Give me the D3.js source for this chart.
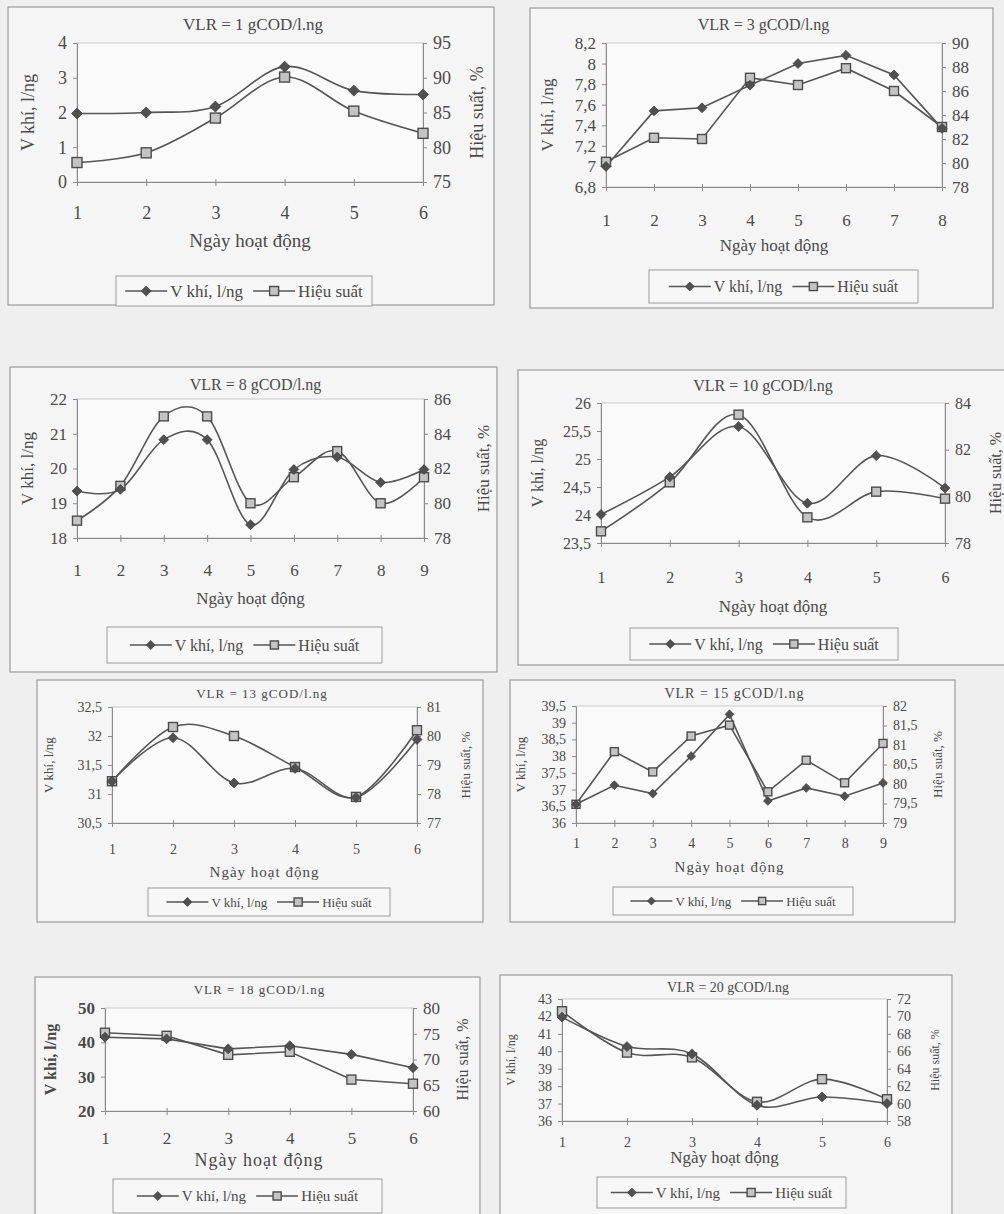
<!DOCTYPE html>
<html>
<head>
<meta charset="utf-8">
<script src="https://cdn.jsdelivr.net/npm/d3@7"></script>
<style>
body { margin: 0; background: #efefef; }
svg text { font-family: "Liberation Serif", "DejaVu Serif", serif; fill: #4a4a4a; }
</style>
</head>
<body>
<svg id="page" width="1004" height="1214"></svg>
<script>
// --- data ---
var days6 = [1, 2, 3, 4, 5, 6];
var days8 = [1, 2, 3, 4, 5, 6, 7, 8];
var days9 = [1, 2, 3, 4, 5, 6, 7, 8, 9];

var vKhi1 = [1.97, 2.0, 2.17, 3.32, 2.63, 2.52];
var hieuSuat1 = [77.8, 79.2, 84.2, 90.1, 85.2, 82.0];
var vTicks1 = [0, 1, 2, 3, 4];
var hTicks1 = [75, 80, 85, 90, 95];

var vKhi3 = [7.0, 7.54, 7.57, 7.79, 8.0, 8.08, 7.89, 7.37];
var hieuSuat3 = [80.1, 82.1, 82.0, 87.1, 86.5, 87.9, 86.0, 83.0];
var vTicks3 = [6.8, 7, 7.2, 7.4, 7.6, 7.8, 8, 8.2];
var hTicks3 = [78, 80, 82, 84, 86, 88, 90];

var vKhi8 = [19.35, 19.4, 20.83, 20.83, 18.38, 19.97, 20.33, 19.6, 19.97];
var hieuSuat8 = [79.0, 81.0, 85.0, 85.0, 80.0, 81.5, 83.0, 80.0, 81.5];
var vTicks8 = [18, 19, 20, 21, 22];
var hTicks8 = [78, 80, 82, 84, 86];

var vKhi10 = [24.01, 24.68, 25.58, 24.21, 25.06, 24.48];
var hieuSuat10 = [78.5, 80.6, 83.5, 79.1, 80.2, 79.9];
var vTicks10 = [23.5, 24, 24.5, 25, 25.5, 26];
var hTicks10 = [78, 80, 82, 84];

var vKhi13 = [31.22, 31.97, 31.19, 31.44, 30.94, 31.94];
var hieuSuat13 = [78.44, 80.31, 80.0, 78.93, 77.9, 80.2];
var vTicks13 = [30.5, 31, 31.5, 32, 32.5];
var hTicks13 = [77, 78, 79, 80, 81];

var vKhi15 = [36.56, 37.13, 36.88, 38.0, 39.25, 36.66, 37.05, 36.8, 37.2];
var hieuSuat15 = [79.48, 80.83, 80.31, 81.23, 81.51, 79.8, 80.61, 80.03, 81.04];
var vTicks15 = [36, 36.5, 37, 37.5, 38, 38.5, 39, 39.5];
var hTicks15 = [79, 79.5, 80, 80.5, 81, 81.5, 82];

var vKhi18 = [41.5, 41.0, 38.1, 39.0, 36.5, 32.6];
var hieuSuat18 = [75.2, 74.6, 70.9, 71.5, 66.1, 65.3];
var vTicks18 = [20, 30, 40, 50];
var hTicks18 = [60, 65, 70, 75, 80];

var vKhi20 = [41.96, 40.27, 39.85, 36.9, 37.38, 37.0];
var hieuSuat20 = [70.6, 65.85, 65.3, 60.2, 62.8, 60.5];
var vTicks20 = [36, 37, 38, 39, 40, 41, 42, 43];
var hTicks20 = [58, 60, 62, 64, 66, 68, 70, 72];

var vName = "V khí, l/ng";
var hName = "Hiệu suất";
var xTitle = "Ngày hoạt động";
var yLeftTitle = "V khí, l/ng";
var yRightTitle = "Hiệu suất, %";

// --- layout of each panel on the page ---
var panels = [
	{title: "VLR = 1 gCOD/l.ng", days: days6, v: vKhi1, h: hieuSuat1, vt: vTicks1, ht: hTicks1, smooth: true,
	 frame: [8, 7, 494, 305], plot: [77, 43, 423, 182], titleY: 24, xLabY: 213, xTitY: 240,
	 lTitX: 28, rTitX: 477, legend: [116, 276, 372, 306], fs: {tick: 18, title: 17, xt: 19, yt: 18, lg: 17}, mk: 10},
	{title: "VLR = 3 gCOD/l.ng", days: days8, v: vKhi3, h: hieuSuat3, vt: vTicks3, ht: hTicks3, smooth: false,
	 frame: [530, 8, 993, 308], plot: [606, 43, 942, 187], titleY: 24, xLabY: 220, xTitY: 245,
	 lTitX: 547, rTitX: null, legend: [649, 270, 918, 303], fs: {tick: 17, title: 16, xt: 17, yt: 17, lg: 16}, mk: 9},
	{title: "VLR = 8 gCOD/l.ng", days: days9, v: vKhi8, h: hieuSuat8, vt: vTicks8, ht: hTicks8, smooth: true,
	 frame: [10, 367, 497, 672], plot: [77, 399, 424, 538], titleY: 384, xLabY: 570, xTitY: 598,
	 lTitX: 27, rTitX: 483, legend: [107, 627, 382, 663], fs: {tick: 17, title: 16, xt: 17, yt: 17, lg: 16}, mk: 9},
	{title: "VLR = 10 gCOD/l.ng", days: days6, v: vKhi10, h: hieuSuat10, vt: vTicks10, ht: hTicks10, smooth: true,
	 frame: [518, 370, 1012, 665], plot: [601, 403, 945, 543], titleY: 385, xLabY: 577, xTitY: 606,
	 lTitX: 537, rTitX: 995, legend: [630, 628, 898, 660], fs: {tick: 16, title: 16, xt: 17, yt: 16, lg: 16}, mk: 9},
	{title: "VLR = 13 gCOD/l.ng", days: days6, v: vKhi13, h: hieuSuat13, vt: vTicks13, ht: hTicks13, smooth: true,
	 frame: [37, 680, 483, 922], plot: [112, 707, 417, 823], titleY: 693, xLabY: 849, xTitY: 872,
	 lTitX: 48, rTitX: 465, legend: [148, 888, 390, 916], fs: {tick: 14, title: 13, xt: 15, yt: 13, lg: 13, ls: 1}, mk: 9},
	{title: "VLR = 15 gCOD/l.ng", days: days9, v: vKhi15, h: hieuSuat15, vt: vTicks15, ht: hTicks15, smooth: false,
	 frame: [510, 680, 955, 922], plot: [576, 706, 883, 823], titleY: 693, xLabY: 843, xTitY: 867,
	 lTitX: 520, rTitX: 937, legend: [613, 887, 853, 915], fs: {tick: 14, title: 14, xt: 15, yt: 13, lg: 13, ls: 1}, mk: 8},
	{title: "VLR = 18 gCOD/l.ng", days: days6, v: vKhi18, h: hieuSuat18, vt: vTicks18, ht: hTicks18, smooth: false,
	 frame: [35, 977, 480, 1216], plot: [105, 1008, 413, 1111], titleY: 989, xLabY: 1138, xTitY: 1160,
	 lTitX: 50, rTitX: 462, legend: [113, 1179, 382, 1213], fs: {tick: 17, title: 13, xt: 18, yt: 16, lg: 15, ls: 1}, mk: 9, boldY: true},
	{title: "VLR = 20 gCOD/l.ng", days: days6, v: vKhi20, h: hieuSuat20, vt: vTicks20, ht: hTicks20, smooth: true,
	 frame: [500, 975, 952, 1216], plot: [562, 999, 887, 1121], titleY: 987, xLabY: 1142, xTitY: 1157,
	 lTitX: 511, rTitX: 935, legend: [597, 1177, 846, 1208], fs: {tick: 14, title: 14, xt: 17, yt: 12, lg: 15}, mk: 9}
];

var svg = d3.select("#page");
var ink = "#555";

function fmt(d) {
	return String(+d.toFixed(2)).replace(".", ",");
}

function diamond(g, cx, cy, s) {
	var r = s * 0.55;
	g.append("path")
		.attr("d", "M" + cx + "," + (cy - r) + "L" + (cx + r) + "," + cy + "L" + cx + "," + (cy + r) + "L" + (cx - r) + "," + cy + "Z")
		.attr("fill", "#505050").attr("stroke", "#444").attr("stroke-width", 0.8);
}
function square(g, cx, cy, s) {
	g.append("rect")
		.attr("x", cx - s / 2).attr("y", cy - s / 2).attr("width", s).attr("height", s)
		.attr("fill", "#c4c4c4").attr("stroke", "#4c4c4c").attr("stroke-width", 1.4);
}

function styleAxis(a, fs) {
	a.select(".domain").attr("stroke", "#8a8a8a").attr("stroke-width", 1);
	a.selectAll(".tick line").attr("stroke", "#8a8a8a");
	a.selectAll("text").attr("font-size", fs).attr("fill", "#4a4a4a");
}

function drawPanel(p) {
	var g = svg.append("g");
	var f = p.frame, pl = p.plot;

	g.append("rect")
		.attr("x", f[0]).attr("y", f[1]).attr("width", f[2] - f[0]).attr("height", f[3] - f[1])
		.attr("fill", "#f5f5f5").attr("stroke", "#9c9c9c").attr("stroke-width", 1.2);

	var x = d3.scaleLinear().domain([1, p.days.length]).range([pl[0], pl[2]]);
	var yL = d3.scaleLinear().domain(d3.extent(p.vt)).range([pl[3], pl[1]]);
	var yR = d3.scaleLinear().domain(d3.extent(p.ht)).range([pl[3], pl[1]]);

	// plot area border
	g.append("rect")
		.attr("x", pl[0]).attr("y", pl[1]).attr("width", pl[2] - pl[0]).attr("height", pl[3] - pl[1])
		.attr("fill", "#fafafa").attr("stroke", "#c9c9c9");

	var aL = g.append("g").attr("transform", "translate(" + pl[0] + ",0)")
		.call(d3.axisLeft(yL).tickValues(p.vt).tickFormat(fmt).tickSizeInner(4).tickSizeOuter(0).tickPadding(6));
	styleAxis(aL, p.fs.tick);
	if (p.boldY) aL.selectAll("text").attr("font-weight", "bold");

	var aR = g.append("g").attr("transform", "translate(" + pl[2] + ",0)")
		.call(d3.axisRight(yR).tickValues(p.ht).tickFormat(fmt).tickSizeInner(4).tickSizeOuter(0).tickPadding(6));
	styleAxis(aR, p.fs.tick);

	var aB = g.append("g").attr("transform", "translate(0," + pl[3] + ")")
		.call(d3.axisBottom(x).tickValues(p.days).tickFormat(d3.format("d")).tickSizeInner(4).tickSizeOuter(0));
	styleAxis(aB, p.fs.tick);
	aB.selectAll(".tick line").attr("y1", -3);
	aB.selectAll("text").attr("y", p.xLabY - pl[3]).attr("dy", "0.35em");

	// lines
	var curve = p.smooth ? d3.curveCatmullRom.alpha(0) : d3.curveLinear;
	var lineV = d3.line().x(function(d, i) { return x(p.days[i]); }).y(function(d) { return yL(d); }).curve(curve);
	var lineH = d3.line().x(function(d, i) { return x(p.days[i]); }).y(function(d) { return yR(d); }).curve(curve);

	g.append("path").attr("d", lineH(p.h)).attr("fill", "none").attr("stroke", ink).attr("stroke-width", 1.6);
	g.append("path").attr("d", lineV(p.v)).attr("fill", "none").attr("stroke", ink).attr("stroke-width", 1.6);

	p.h.forEach(function(d, i) { square(g, x(p.days[i]), yR(d), p.mk); });
	p.v.forEach(function(d, i) { diamond(g, x(p.days[i]), yL(d), p.mk); });

	// titles
	g.append("text").attr("x", (f[0] + Math.min(f[2], 1004)) / 2 + 2).attr("y", p.titleY).attr("dy", "0.35em")
		.attr("text-anchor", "middle").attr("font-size", p.fs.title)
		.attr("letter-spacing", p.fs.ls || 0).text(p.title);

	g.append("text").attr("x", (pl[0] + pl[2]) / 2).attr("y", p.xTitY).attr("dy", "0.35em")
		.attr("text-anchor", "middle").attr("font-size", p.fs.xt)
		.attr("letter-spacing", p.fs.ls || 0).text(xTitle);

	var midY = (pl[1] + pl[3]) / 2;
	g.append("text").attr("transform", "translate(" + p.lTitX + "," + midY + ") rotate(-90)")
		.attr("dy", "0.35em").attr("text-anchor", "middle").attr("font-size", p.fs.yt)
		.attr("font-weight", p.boldY ? "bold" : "normal").text(yLeftTitle);
	if (p.rTitX !== null) {
		g.append("text").attr("transform", "translate(" + p.rTitX + "," + midY + ") rotate(-90)")
			.attr("dy", "0.35em").attr("text-anchor", "middle").attr("font-size", p.fs.yt).text(yRightTitle);
	}

	// legend
	var lb = p.legend;
	g.append("rect").attr("x", lb[0]).attr("y", lb[1]).attr("width", lb[2] - lb[0]).attr("height", lb[3] - lb[1])
		.attr("fill", "#f7f7f7").attr("stroke", "#9c9c9c");
	var lg = g.append("g");
	var ly = (lb[1] + lb[3]) / 2, cx = 0, seg = 42;
	[[vName, diamond], [hName, square]].forEach(function(item, k) {
		lg.append("line").attr("x1", cx).attr("x2", cx + seg).attr("y1", ly).attr("y2", ly)
			.attr("stroke", ink).attr("stroke-width", 1.6);
		item[1](lg, cx + seg / 2, ly, p.mk * 0.9);
		var t = lg.append("text").attr("x", cx + seg + 3).attr("y", ly).attr("dy", "0.35em")
			.attr("font-size", p.fs.lg).text(item[0]);
		cx += seg + 3 + t.node().getComputedTextLength() + 10;
	});
	var w = cx - 10;
	lg.attr("transform", "translate(" + ((lb[0] + lb[2]) / 2 - w / 2) + ",0)");
}

panels.forEach(drawPanel);
</script>
</body>
</html>
